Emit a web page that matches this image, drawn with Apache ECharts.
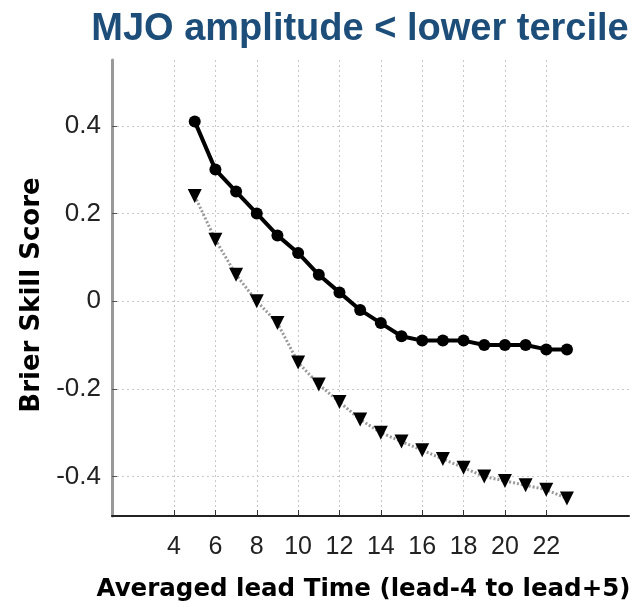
<!DOCTYPE html>
<html>
<head>
<meta charset="utf-8">
<script src="https://cdn.jsdelivr.net/npm/echarts@6/dist/echarts.min.js"></script>
<style>
html,body{margin:0;padding:0;background:#fff;}
#chart{width:639px;height:607px;}
</style>
</head>
<body>
<div id="chart"></div>
<script>
var leadTimes = [5,6,7,8,9,10,11,12,13,14,15,16,17,18,19,20,21,22,23];
var solidSeries = [0.41,0.30,0.25,0.20,0.15,0.11,0.06,0.02,-0.02,-0.05,-0.08,-0.09,-0.09,-0.09,-0.10,-0.10,-0.10,-0.11,-0.11];
var dottedSeries = [0.24,0.14,0.06,0.00,-0.05,-0.14,-0.19,-0.23,-0.27,-0.30,-0.32,-0.34,-0.36,-0.38,-0.40,-0.41,-0.42,-0.43,-0.45];
var xTicks = [4,6,8,10,12,14,16,18,20,22];
var yTicks = [-0.4,-0.2,0,0.2,0.4];
var titleText = 'MJO amplitude < lower tercile';
var xName = 'Averaged lead Time (lead-4 to lead+5)';
var yName = 'Brier Skill Score';

function pairs(vals){ return leadTimes.map(function(x,i){ return [x, vals[i]]; }); }

var chart = echarts.init(document.getElementById('chart'), null, {renderer:'canvas'});
chart.setOption({
  animation:false,
  backgroundColor:'#ffffff',
  title:{
    text:titleText,
    left:355, textAlign:'center', top:6,
    textStyle:{fontFamily:'Liberation Sans', fontWeight:'bold', fontSize:38, color:'#1d4e7a'}
  },
  grid:{left:112, right:10, top:60, bottom:90, containLabel:false},
  xAxis:{
    type:'value', min:1, max:26,
    name:xName, nameLocation:'middle', nameGap:61,
    nameTextStyle:{fontFamily:'DejaVu Sans', fontWeight:'bold', fontSize:24.5, color:'#000', padding:[0,14,0,0]},
    axisLine:{show:true, onZero:false, lineStyle:{color:'#222', width:2}},
    axisTick:{show:true, inside:true, length:6, customValues:xTicks, lineStyle:{color:'#333', width:1}},
    axisLabel:{customValues:xTicks, margin:19, fontFamily:'Liberation Sans', fontSize:25, color:'#222'},
    splitLine:{show:true, lineStyle:{color:'#c8c8c8', type:[2,3], width:1}}
  },
  yAxis:{
    type:'value', min:-0.49, max:0.55,
    name:yName, nameLocation:'middle', nameGap:66,
    nameTextStyle:{fontFamily:'DejaVu Sans', fontWeight:'bold', fontSize:26, color:'#000', padding:[0,14,0,0]},
    axisLine:{show:true, onZero:false, lineStyle:{color:'#999', width:3}},
    axisTick:{show:true, inside:true, length:5, customValues:yTicks, lineStyle:{color:'#555', width:1}},
    axisLabel:{customValues:yTicks, margin:11, fontFamily:'Liberation Sans', fontSize:26, color:'#222',
      formatter:function(v){ return v===0 ? '0' : String(Math.round(v*10)/10); }},
    splitLine:{show:true, lineStyle:{color:'#c8c8c8', type:[2,3], width:1}}
  },
  series:[
    {
      type:'line', data:pairs(solidSeries),
      symbol:'circle', symbolSize:12,
      itemStyle:{color:'#000'},
      lineStyle:{color:'#000', width:4}
    },
    {
      type:'line', data:pairs(dottedSeries),
      symbol:'triangle', symbolSize:14, symbolRotate:180,
      itemStyle:{color:'#000'},
      lineStyle:{color:'#999', width:3, type:[2,2]}
    }
  ]
});
</script>
</body>
</html>
